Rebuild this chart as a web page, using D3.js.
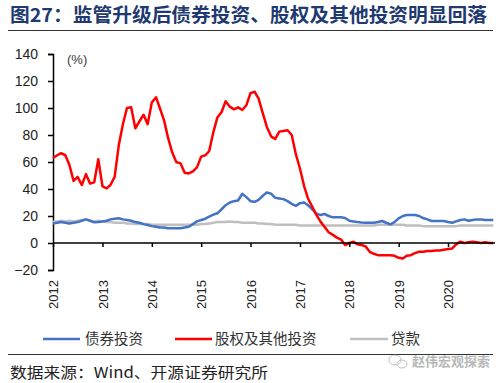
<!DOCTYPE html>
<html><head><meta charset="utf-8">
<script src="https://cdn.jsdelivr.net/npm/d3@7/dist/d3.min.js"></script>
<style>
body{margin:0;background:#fff;}
svg{display:block;font-family:"Liberation Sans",Arial,sans-serif;}
.cjk{font-family:"Noto Sans CJK SC","Noto Sans",sans-serif;}
</style></head>
<body><svg id="c" width="500" height="383"></svg>
<script>
const title = "图27：监管升级后债券投资、股权及其他投资明显回落";
const source = "数据来源：Wind、开源证券研究所";
const watermark = "赵伟宏观探索";
const seriesNames = ["债券投资", "股权及其他投资", "贷款"];
const seriesColors = ["#4472C4", "#FF0000", "#BFBFBF"];
const yTicks = [-20, 0, 20, 40, 60, 80, 100, 120, 140];
const yearLabels = ["2012","2013","2014","2015","2016","2017","2018","2019","2020"];
const startYear = 2012, startMonth = 0;

// Monthly values Jan 2012 - Dec 2020 (%)
const bond = [14.5,15,15.5,15,14.5,15,15.5,16.5,17.5,16.5,15.3,15.5,
16,16.5,17.5,18,18.3,17.5,17,16.5,15.5,15,14,13.3,
12.5,12,11.5,11.5,11,11,11,11,11.5,12,14,16,
17,18,19.5,21,22,25,28,30,31,31.5,36.5,34,
31,30.5,32,35,37.5,36.5,33.5,33,32.5,31,29,27.5,
29.5,30,28,25,22,20.7,21.5,20,19,19,19,18.5,
16.5,16,15.5,15.2,15,15,15,15.5,16.3,15,13.8,15.5,
18.3,20,20.7,20.7,20.7,20,18.5,17.5,16.3,16.3,16.3,16.3,
15.5,15,16,17,17.5,16.5,17,17.5,17.5,17,17,17];
const equity = [63,65,66.5,65,58,46,49,43,51,44,45,62,
42,40.5,43,49,72,88,100,100.5,85,90,95,88,
104,108,100,91,78,67,60,59,52,51.5,53,56,
64,65,68,82,93,97,105,101,99,100.5,98.5,102,
111,112,107,96,86,79,77,82.5,83,83.5,80,66,
55,42,33,27,21,16,12,8,6,4,2.5,-1.5,
0,1,-1,-1.5,-2.5,-6.5,-8,-9,-9,-9,-9,-9.5,
-11,-11.5,-9.5,-9,-7.5,-6.5,-6.5,-6,-6,-5.5,-5.5,-5,
-4.5,-4,-1,1,0,0.5,1,0.5,0,0.5,0,0];
const loans = [15.5,16,16.5,16,16.5,16,16.5,17,17.5,16.5,16,16.5,
16,15.5,15.5,15,15,15,14.5,14.5,14,14,14,14,
13.5,13.5,13.5,13.5,13.5,13.5,13.5,13.5,13.5,13.5,13.5,13.5,
14,14,14.5,15,15.5,15.5,15.5,16,15.5,15.5,15,15,
15,15,14.5,14.5,14,14,13.5,13.5,13.5,13.5,13.5,13.5,
13,13,13,13,13,13,13,13,13,13,13,13,
13,13,13,13,13,13,13,13.5,13.5,13.5,13.5,13.5,
13.5,13.5,13,13,13,13,12.5,12.5,12.5,12.5,12.5,12.5,
12.5,12.5,12.5,13,13,13,13,13,13,13,13,13];

const svg = d3.select("#c");
const x = d3.scaleTime().domain([new Date(2012,0,1), new Date(2021,0,1)]).range([53, 497.5]);
const y = d3.scaleLinear().domain([-20, 140]).range([270, 54]);
const dateOf = i => new Date(startYear, startMonth + i, 1);

// title
svg.append("text").attr("class","cjk").attr("x",10).attr("y",22)
  .attr("font-size",19).attr("font-weight",700).attr("fill","#1F3A70")
  .attr("textLength",477).attr("lengthAdjust","spacingAndGlyphs").text(title);
svg.append("line").attr("x1",8).attr("x2",493).attr("y1",30.5).attr("y2",30.5)
  .attr("stroke","#333").attr("stroke-width",1);

// y axis
const yAxis = d3.axisLeft(y).tickValues(yTicks).tickSize(5).tickSizeOuter(5).tickPadding(10);
const gy = svg.append("g").attr("transform","translate(53,0)").call(yAxis);
gy.selectAll("path,line").attr("stroke","#000").attr("stroke-width",1.5);
gy.selectAll("text").attr("font-size",14).attr("fill","#222").attr("font-family","Liberation Sans, Arial, sans-serif");

svg.append("text").attr("x",67).attr("y",64).attr("font-size",13).attr("fill","#404040").text("(%)");

// lines
const line = d3.line().x((d,i)=>x(dateOf(i))).y(d=>y(d));
[[loans,2],[bond,0],[equity,1]].forEach(([arr,k])=>{
  svg.append("path").datum(arr).attr("d",line).attr("fill","none")
    .attr("stroke",seriesColors[k]).attr("stroke-width",2.5).attr("stroke-linejoin","round");
});

// x axis at 0
const years = yearLabels.map(s=>new Date(+s,0,1));
const xAxis = d3.axisBottom(x).tickValues(years).tickSize(4).tickSizeOuter(0).tickFormat((d,i)=>yearLabels[i]);
const gx = svg.append("g").attr("transform",`translate(0,${y(0)})`).call(xAxis);
gx.select(".domain").attr("d",`M53,0H495`);
gx.selectAll("path,line").attr("stroke","#000").attr("stroke-width",1.5);
gx.selectAll("text").attr("font-size",13).attr("fill","#222")
  .attr("font-family","Liberation Sans, Arial, sans-serif")
  .attr("text-anchor","end").attr("transform",`translate(0,${280-y(0)}) rotate(-90)`)
  .attr("x",0).attr("y",0).attr("dy","0.35em");

// legend
const lg = [[43,80,85],[175,212,215],[350,388,391]];
lg.forEach((p,k)=>{
  svg.append("line").attr("x1",p[0]).attr("x2",p[1]).attr("y1",339).attr("y2",339)
    .attr("stroke",seriesColors[k]).attr("stroke-width",2.5);
  svg.append("text").attr("class","cjk").attr("x",p[2]).attr("y",344).attr("font-size",14.5)
    .attr("fill","#333").text(seriesNames[k]);
});
svg.append("line").attr("x1",8).attr("x2",493).attr("y1",354.5).attr("y2",354.5)
  .attr("stroke","#333").attr("stroke-width",1);

// source
svg.append("text").attr("class","cjk").attr("x",10).attr("y",378).attr("font-size",15)
  .attr("fill","#222").attr("textLength",258).attr("lengthAdjust","spacingAndGlyphs").text(source);

// watermark
const wm = svg.append("g").attr("opacity",0.6);
wm.append("ellipse").attr("cx",395).attr("cy",360).attr("rx",6).attr("ry",5).attr("fill","none").attr("stroke","#999");
wm.append("ellipse").attr("cx",402).attr("cy",364).attr("rx",5).attr("ry",4).attr("fill","none").attr("stroke","#999");
wm.append("text").attr("class","cjk").attr("x",412).attr("y",366).attr("font-size",13)
  .attr("font-weight",700).attr("fill","#888").text(watermark);
</script></body></html>
